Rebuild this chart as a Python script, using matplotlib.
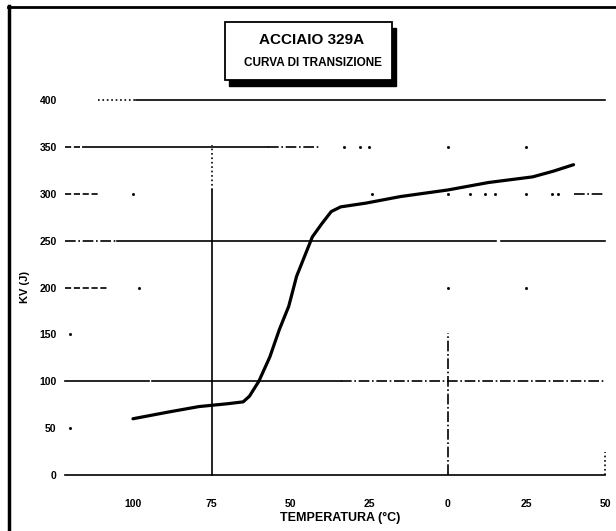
import matplotlib.pyplot as plt
from matplotlib.lines import Line2D
from matplotlib.patches import Rectangle

# curva di transizione
temperatura = [-100, -89, -79, -70, -65, -63, -60, -56.5, -53.5, -50.5, -48, -45.5,
               -43, -40, -37, -34, -26, -15, 0, 13, 27, 33.5, 40]
kv = [60, 67, 73, 76, 78, 84, 100, 126, 155, 180, 212, 233,
      254, 268, 281, 286, 290, 297, 304, 312, 318, 324, 331]

x_ticks = [-100, -75, -50, -25, 0, 25, 50]
x_tick_labels = ['100', '75', '50', '25', '0', '25', '50']
y_ticks = [0, 50, 100, 150, 200, 250, 300, 350, 400]
y_tick_labels = ['0', '50', '100', '150', '200', '250', '300', '350', '400']

plt.rcParams['font.family'] = ['Liberation Sans', 'DejaVu Sans']

W, H = 616, 531
fig = plt.figure(figsize=(W / 100, H / 100), dpi=100)
ax = fig.add_axes([65 / W, 56 / H, 540 / W, 375 / H])
ax.set_xlim(-121.6, 50)
ax.set_ylim(0, 400)
for s in ax.spines.values():
    s.set_visible(False)

# linee di riferimento (tratti come nella scansione)
def seg(x0, x1, y, ls='-'):
    ax.plot([x0, x1], [y, y], color='black', lw=1.2, ls=ls, clip_on=False, zorder=1)

def vseg(x, y0, y1, ls='-'):
    ax.plot([x, x], [y0, y1], color='black', lw=1.2, ls=ls, clip_on=False, zorder=1)

def dots(xs, y):
    ax.plot(xs, [y] * len(xs), ls='none', marker='s', ms=1.0, color='black', zorder=1)

seg(-111, -99, 400, ':')
seg(-99, 50, 400)
seg(-121.5, -116, 350, '--')
seg(-116, -57, 350)
seg(-57, -41, 350, '-.')
dots([-33, -28, -25, 0, 25], 350)
seg(-121.5, -111, 300, '--')
dots([-100, -24, 0, 7, 12, 15, 25, 33, 35], 300)
seg(40, 50, 300, '-.')
seg(-121.5, -105, 250, '-.')
seg(-105, 15.5, 250)
seg(17, 50, 250)
seg(-121.5, -108, 200, '--')
dots([-98, 0, 25], 200)
dots([-120], 150)
seg(-121.5, -95, 100)
seg(-94, -34, 100)
seg(-34, 50, 100, '-.')
dots([-120], 50)
seg(-121.5, 50, 0)
vseg(-75, 304, 352, ':')
vseg(-75, 0, 304)
vseg(0, 0, 151, '-.')
vseg(50, 0, 25, ':')

ax.plot(temperatura, kv, color='black', lw=2.3, solid_capstyle='round', zorder=3)

ax.set_xticks(x_ticks)
ax.set_xticklabels(x_tick_labels, fontsize=7.5, fontweight='bold')
ax.set_yticks(y_ticks)
ax.set_yticklabels(y_tick_labels, fontsize=7.5, fontweight='bold')
ax.tick_params(axis='x', length=0, pad=17)
ax.tick_params(axis='y', length=0, pad=6)

fig.text(25 / W, 1 - 287 / H, 'KV (J)', rotation=90, ha='center', va='center',
         fontsize=8, fontweight='bold')
fig.text(340 / W, 1 - 518 / H, 'TEMPERATURA (°C)', ha='center', va='center',
         fontsize=9, fontweight='bold')

# riquadro del titolo con ombra
bx0, bx1, by0, by1 = 225, 392, 22, 80
fig.add_artist(Rectangle(((bx0 + 4) / W, 1 - (by1 + 6) / H), (bx1 - bx0) / W,
                         (by1 - by0) / H, transform=fig.transFigure,
                         facecolor='black', edgecolor='black', zorder=5))
fig.add_artist(Rectangle((bx0 / W, 1 - by1 / H), (bx1 - bx0) / W, (by1 - by0) / H,
                         transform=fig.transFigure, facecolor='white',
                         edgecolor='black', lw=1.3, zorder=6))
fig.text(312 / W, 1 - 40 / H, 'ACCIAIO 329A', ha='center', va='center',
         fontsize=11, fontweight='bold', zorder=7)
fig.text(313 / W, 1 - 63 / H, 'CURVA DI TRANSIZIONE', ha='center', va='center',
         fontsize=8.5, fontweight='bold', zorder=7)

# cornice della scansione
fig.add_artist(Line2D([9 / W, 9 / W], [0, 1 - 6 / H], color='black', lw=2.5,
                      transform=fig.transFigure))
fig.add_artist(Line2D([8 / W, 1], [1 - 7 / H, 1 - 7 / H], color='black', lw=2,
                      transform=fig.transFigure))

fig.savefig('out.png', dpi=100)
